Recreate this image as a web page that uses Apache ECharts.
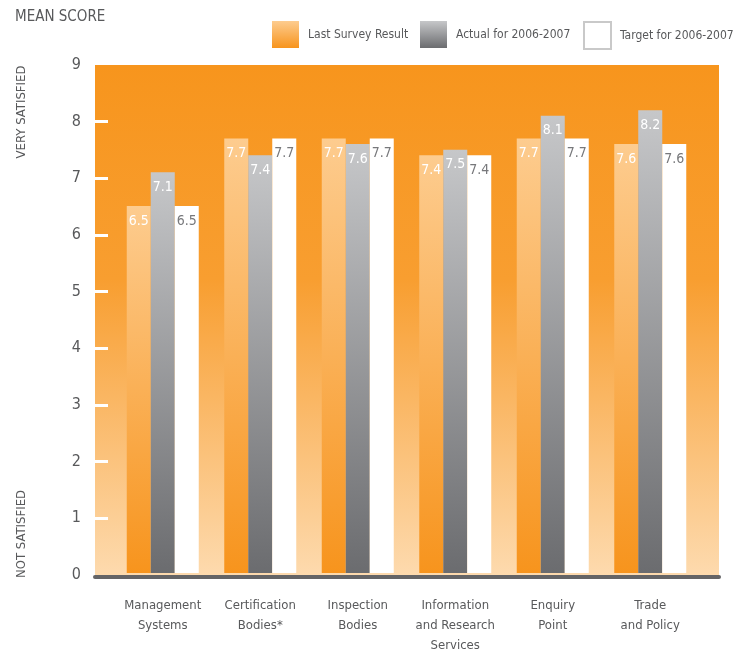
<!DOCTYPE html>
<html>
<head>
<meta charset="utf-8">
<script src="https://cdn.jsdelivr.net/npm/echarts@6/dist/echarts.min.js"></script>
<style>html,body{margin:0;padding:0;background:#fff}#c{width:736px;height:656px}</style>
</head>
<body>
<div id="c"></div>
<script>
var categories = ["Management\nSystems", "Certification\nBodies*", "Inspection\nBodies", "Information\nand Research\nServices", "Enquiry\nPoint", "Trade\nand Policy"];
var lastSurvey = [6.5, 7.7, 7.7, 7.4, 7.7, 7.6];
var actual = [7.1, 7.4, 7.6, 7.5, 8.1, 8.2];
var target = [6.5, 7.7, 7.7, 7.4, 7.7, 7.6];
var yTicks = [0, 1, 2, 3, 4, 5, 6, 7, 8, 9];
var seriesNames = ["Last Survey Result", "Actual for 2006-2007", "Target for 2006-2007"];

var FONT = "'Liberation Sans Narrow', 'DejaVu Sans Condensed', 'Roboto Condensed', sans-serif";
var TXT = '#58595b';

function grad(c0, c1) {
  return {type: 'linear', x: 0, y: 0, x2: 0, y2: 1, colorStops: [{offset: 0, color: c0}, {offset: 1, color: c1}]};
}

function legendFor(i, left, extra) {
  var item = {name: seriesNames[i]};
  if (extra) item.itemStyle = extra;
  return {
    left: left, top: 21, padding: 0, itemWidth: 27, itemHeight: 27, icon: 'rect',
    textStyle: {color: TXT, fontSize: 12, fontFamily: FONT, padding: [0, 0, 0, 4]},
    data: [item]
  };
}

var chart = echarts.init(document.getElementById('c'), null, {renderer: 'canvas'});
var option = {
  animation: false,
  textStyle: {fontFamily: FONT},
  grid: [
    {left: 95, right: 17, top: 65, bottom: 81, show: true, borderWidth: 0,
     backgroundColor: {type: 'linear', x: 0, y: 0, x2: 0, y2: 1, colorStops: [
       {offset: 0, color: '#F7951D'}, {offset: 0.42, color: '#F89E30'}, {offset: 1, color: '#FDDAAE'}]}},
    {left: 114, right: 37, top: 65, bottom: 81}
  ],
  legend: [
    legendFor(0, 272),
    legendFor(1, 420),
    legendFor(2, 583, {color: '#fff', borderColor: '#c9c9c9', borderWidth: 2})
  ],
  xAxis: [
    {type: 'value', gridIndex: 0, min: 0, max: 1, offset: 2, splitLine: {show: false},
     axisLine: {show: true, onZero: false, lineStyle: {color: '#646466', width: 4}},
     axisTick: {show: false}, axisLabel: {show: false}},
    {type: 'category', gridIndex: 1, data: categories,
     axisLine: {show: false}, axisTick: {show: false},
     axisLabel: {color: TXT, fontSize: 13, lineHeight: 20, margin: 23, fontFamily: FONT, interval: 0}}
  ],
  yAxis: [
    {type: 'value', gridIndex: 0, min: 0, max: 9, interval: 1,
     axisLine: {show: false},
     axisTick: {show: true, inside: true, length: 13, customValues: yTicks.slice(1, 9), lineStyle: {color: '#fff', width: 3}},
     axisLabel: {color: TXT, fontSize: 16, margin: 14, fontFamily: FONT, customValues: yTicks},
     splitLine: {show: false}},
    {type: 'value', gridIndex: 1, min: 0, max: 9, interval: 1, show: false}
  ],
  series: [
    {name: seriesNames[0], type: 'bar', xAxisIndex: 1, yAxisIndex: 1, data: lastSurvey,
     barWidth: 24, barGap: '0%',
     itemStyle: {color: grad('#FDCC8F', '#F7941D')},
     label: {show: true, position: 'insideTop', distance: 8, color: '#fff', fontSize: 14, fontFamily: FONT}},
    {name: seriesNames[1], type: 'bar', xAxisIndex: 1, yAxisIndex: 1, data: actual,
     barWidth: 24, barGap: '0%',
     itemStyle: {color: grad('#C6C7C9', '#6B6C6F')},
     label: {show: true, position: 'insideTop', distance: 8, color: '#fff', fontSize: 14, fontFamily: FONT}},
    {name: seriesNames[2], type: 'bar', xAxisIndex: 1, yAxisIndex: 1, data: target,
     barWidth: 24, barGap: '0%',
     itemStyle: {color: '#ffffff'},
     label: {show: true, position: 'insideTop', distance: 8, color: '#77787b', fontSize: 14, fontFamily: FONT}}
  ],
  graphic: [
    {type: 'text', left: 15, top: 10, style: {text: 'MEAN SCORE', fill: TXT, fontSize: 15, fontFamily: FONT}},
    {type: 'text', x: 22, y: 112, rotation: Math.PI / 2,
     style: {text: 'VERY SATISFIED', fill: TXT, fontSize: 13, fontFamily: FONT, textAlign: 'center', textVerticalAlign: 'middle'}},
    {type: 'text', x: 22, y: 534, rotation: Math.PI / 2,
     style: {text: 'NOT SATISFIED', fill: TXT, fontSize: 13, fontFamily: FONT, textAlign: 'center', textVerticalAlign: 'middle'}}
  ]
};
chart.setOption(option);
</script>
</body>
</html>
